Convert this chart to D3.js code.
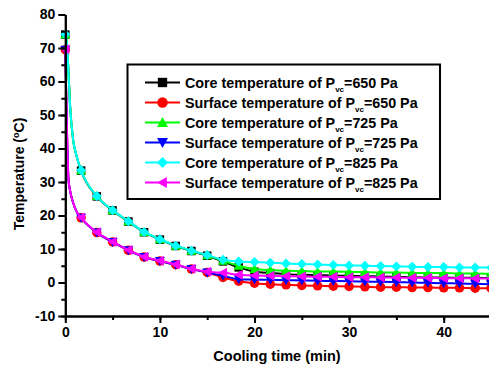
<html>
<head>
<meta charset="utf-8">
<script src="https://d3js.org/d3.v7.min.js"></script>
<style>
    body { margin: 0; background: #fff; }
    svg { display: block; font-family: "Liberation Sans", Arial, sans-serif; font-weight: bold; }
    .axis path, .axis line { stroke: #000; stroke-width: 2px; }
    .axis text { font-size: 14px; font-weight: bold; fill: #000; font-family: "Liberation Sans", Arial, sans-serif; }
</style>
</head>
<body>
<svg id="chart" width="489" height="365"></svg>
<script>
    // cooling time of each marker (min)
    var times = [0, 1.67, 3.33, 5, 6.67, 8.33, 10, 11.67, 13.33, 15, 16.67, 18.33, 20, 21.67,
                 23.33, 25, 26.67, 28.33, 30, 31.67, 33.33, 35, 36.67, 38.33, 40, 41.67, 43.33, 45];
    // extra line points in the first steep drop (no markers)
    var earlyTimes = [0.17, 0.33, 0.5, 0.83, 1.17];
    var coreEarly = [71.5, 63, 53, 42.5, 38];
    var surfEarly = [46, 31, 27.5, 23.8, 21.3];

    var core650 = [74.0, 33.4, 25.7, 21.5, 18.2, 15.0, 12.8, 10.9, 9.4, 8.0, 6.3, 4.5, 3.2, 2.8,
                   2.5, 2.3, 2.2, 2.1, 2.0, 1.9, 1.8, 1.7, 1.6, 1.5, 1.5, 1.4, 1.4, 1.3];
    var surf650 = [69.5, 19.3, 14.9, 12.1, 9.6, 7.6, 6.4, 5.3, 4.0, 3.0, 1.5, 0.4, -0.2, -0.5,
                   -0.7, -0.9, -1.0, -1.1, -1.2, -1.3, -1.4, -1.4, -1.5, -1.5, -1.6, -1.6, -1.7, -1.7];
    var core725 = [74.0, 33.5, 25.8, 21.6, 18.3, 15.1, 12.9, 11.0, 9.5, 8.1, 6.5, 5.0, 4.0, 3.7,
                   3.5, 3.4, 3.3, 3.3, 3.2, 3.1, 3.0, 3.0, 2.9, 2.8, 2.8, 2.7, 2.7, 2.6];
    var surf725 = [69.5, 19.3, 14.9, 12.1, 9.6, 7.6, 6.4, 5.3, 4.0, 3.0, 2.0, 1.0, 0.9, 0.8,
                   0.7, 0.6, 0.5, 0.45, 0.4, 0.3, 0.2, 0.1, 0.0, -0.1, -0.2, -0.3, -0.4, -0.5];
    var core825 = [74.1, 33.5, 25.8, 21.6, 18.3, 15.1, 12.9, 11.0, 9.5, 8.2, 6.8, 6.3, 6.1, 5.9,
                   5.7, 5.5, 5.4, 5.2, 5.1, 5.0, 4.9, 4.8, 4.7, 4.6, 4.6, 4.5, 4.5, 4.5];
    var surf825 = [69.6, 19.4, 15.0, 12.2, 9.7, 7.7, 6.5, 5.4, 4.1, 3.2, 2.9, 2.3, 2.1, 2.0,
                   1.9, 1.8, 1.7, 1.7, 1.6, 1.6, 1.5, 1.5, 1.4, 1.4, 1.3, 1.3, 1.2, 1.2];

    var xTicks = [0, 10, 20, 30, 40];
    var yTicks = [-10, 0, 10, 20, 30, 40, 50, 60, 70, 80];

    var series = [
        { kind: 'Core', p: '650', vals: core650, early: coreEarly, color: '#000000', shape: 'square' },
        { kind: 'Surface', p: '650', vals: surf650, early: surfEarly, color: '#ff0000', shape: 'circle' },
        { kind: 'Core', p: '725', vals: core725, early: coreEarly, color: '#00ff00', shape: 'up' },
        { kind: 'Surface', p: '725', vals: surf725, early: surfEarly, color: '#0000ff', shape: 'down' },
        { kind: 'Core', p: '825', vals: core825, early: coreEarly, color: '#00ffff', shape: 'diamond' },
        { kind: 'Surface', p: '825', vals: surf825, early: surfEarly, color: '#ff00ff', shape: 'left' }
    ];

    var svg = d3.select('#chart');
    var x = d3.scaleLinear().domain([0, 45]).range([65.3, 491]);
    var y = d3.scaleLinear().domain([-10, 80]).range([316, 14.5]);

    function marker(shape, s) {
        // s = nominal size in px
        var h = s / 2;
        if (shape === 'square') return 'M' + (-h*0.85) + ',' + (-h*0.85) + 'h' + (s*0.85) + 'v' + (s*0.85) + 'h' + (-s*0.85) + 'Z';
        if (shape === 'circle') return d3.symbol(d3.symbolCircle, Math.PI * h * h * 0.9)();
        if (shape === 'up') return 'M0,' + (-h) + 'L' + h + ',' + (h*0.8) + 'L' + (-h) + ',' + (h*0.8) + 'Z';
        if (shape === 'down') return 'M0,' + h + 'L' + h + ',' + (-h*0.8) + 'L' + (-h) + ',' + (-h*0.8) + 'Z';
        if (shape === 'diamond') return 'M0,' + (-h) + 'L' + h + ',0L0,' + h + 'L' + (-h) + ',0Z';
        if (shape === 'left') return 'M' + (-h) + ',0L' + (h*0.8) + ',' + (-h) + 'L' + (h*0.8) + ',' + h + 'Z';
    }

    var line = d3.line()
        .x(function(d) { return x(d[0]); })
        .y(function(d) { return y(d[1]); })
        .curve(d3.curveMonotoneX);

    series.forEach(function(s) {
        var pts = [[times[0], s.vals[0]]];
        earlyTimes.forEach(function(t, i) { pts.push([t, s.early[i]]); });
        times.slice(1).forEach(function(t, i) { pts.push([t, s.vals[i + 1]]); });

        svg.append('path')
            .attr('d', line(pts))
            .attr('fill', 'none')
            .attr('stroke', s.color)
            .attr('stroke-width', 2);

        svg.append('g').selectAll('path')
            .data(times.map(function(t, i) { return [t, s.vals[i]]; }))
            .enter().append('path')
            .attr('transform', function(d) { return 'translate(' + x(d[0]) + ',' + y(d[1]) + ')'; })
            .attr('d', marker(s.shape, 10))
            .attr('fill', s.color);
    });

    // axes (plain hyphen for negative labels)
    var fmt = function(d) { return String(d); };
    var yMinor = d3.range(-10, 81, 5);
    var xMinor = [0, 5, 10, 15, 20, 25, 30, 35, 40, 45];

    svg.append('g').attr('class', 'axis')
        .attr('transform', 'translate(' + x(0) + ',0)')
        .call(d3.axisLeft(y).tickValues(yMinor).tickSize(4).tickFormat('').tickSizeOuter(0));
    svg.append('g').attr('class', 'axis')
        .attr('transform', 'translate(' + x(0) + ',0)')
        .call(d3.axisLeft(y).tickValues(yTicks).tickSize(7).tickPadding(3).tickFormat(fmt).tickSizeOuter(0));

    svg.append('g').attr('class', 'axis')
        .attr('transform', 'translate(0,' + y(-10) + ')')
        .call(d3.axisBottom(x).tickValues(xMinor).tickSize(4).tickFormat('').tickSizeOuter(0));
    svg.append('g').attr('class', 'axis')
        .attr('transform', 'translate(0,' + y(-10) + ')')
        .call(d3.axisBottom(x).tickValues(xTicks).tickSize(7).tickPadding(4).tickFormat(fmt).tickSizeOuter(0));

    // axis titles
    svg.append('text')
        .attr('x', 277).attr('y', 361)
        .attr('text-anchor', 'middle')
        .style('font-size', '14.5px')
        .text('Cooling time (min)');

    var yt = svg.append('text')
        .attr('transform', 'translate(24,174) rotate(-90)')
        .attr('text-anchor', 'middle')
        .style('font-size', '14px');
    yt.append('tspan').text('Temperature (');
    yt.append('tspan').attr('dy', -5).style('font-size', '9px').text('o');
    yt.append('tspan').attr('dy', 5).text('C)');

    // legend
    var lg = svg.append('g');
    lg.append('rect')
        .attr('x', 127.5).attr('y', 64.5).attr('width', 312.5).attr('height', 134.5)
        .attr('fill', '#fff').attr('stroke', '#000').attr('stroke-width', 2);

    series.forEach(function(s, i) {
        var ry = 82.5 + i * 20;
        lg.append('line')
            .attr('x1', 145).attr('x2', 180).attr('y1', ry).attr('y2', ry)
            .attr('stroke', s.color).attr('stroke-width', 2);
        lg.append('path')
            .attr('transform', 'translate(162.5,' + ry + ')')
            .attr('d', marker(s.shape, 11))
            .attr('fill', s.color);
        var t = lg.append('text')
            .attr('x', 185).attr('y', ry + 5)
            .style('font-size', '14.3px');
        t.append('tspan').text(s.kind + ' temperature of P');
        t.append('tspan').attr('dy', 4).style('font-size', '8px').text('vc');
        t.append('tspan').attr('dy', -4).text('=' + s.p + ' Pa');
    });
</script>
</body>
</html>
